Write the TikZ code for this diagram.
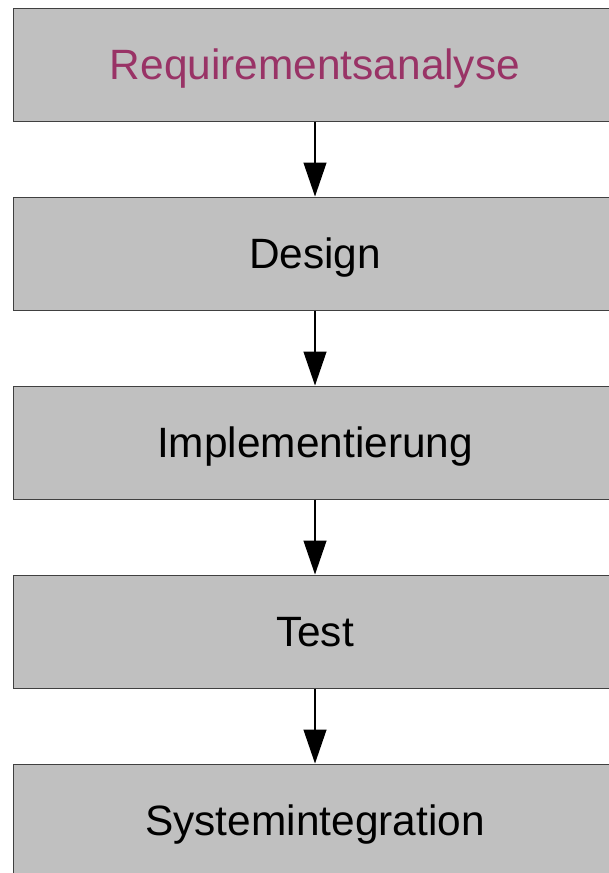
\documentclass[tikz,border=0pt]{standalone}
\usepackage{fontspec}
\setmainfont{Liberation Sans}
\usetikzlibrary{arrows.meta,shapes}

\definecolor{boxgray}{RGB}{192,192,192}
\definecolor{reqviolet}{RGB}{153,51,102}

\begin{document}
\begin{tikzpicture}[x=1pt,y=-1pt,
    phase/.style={
      draw=black!75,
      fill=boxgray,
      shape=rectangle,
      align=center,
      line width=1pt,
      minimum width=604pt,
      minimum height=113pt,
      text height=30pt,
      text depth=0pt,
      node distance=189pt,
      font=\fontsize{42.4}{50}\selectfont
    },
    flow/.style={
      -{Triangle[length=34pt,width=23pt]},
      line width=1.3pt,
      black
    }
    ]
    \useasboundingbox (0,0) rectangle (609,873);
    %\node[phase] (R) at (315,64.5) {Requirementsanalyse};
    \node[phase,text=reqviolet] (R) at (315,64.5) {Requirementsanalyse};
    \node[phase,below of=R] (D) {Design};
    \node[phase,below of=D] (I) {Implementierung};
    \node[phase,below of=I] (T) {Test};
    \node[phase,below of=T] (S) {Systemintegration};
    \draw[flow] (R) -- (D);
    \draw[flow] (D) -- (I);
    \draw[flow] (I) -- (T);
    \draw[flow] (T) -- (S);
  \end{tikzpicture}
\end{document}
